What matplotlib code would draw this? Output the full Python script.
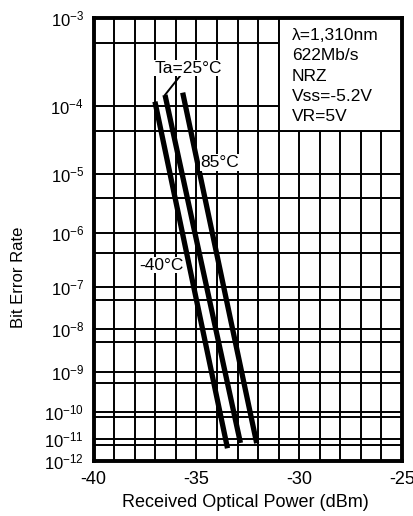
import numpy as np
import matplotlib
matplotlib.use('Agg')
from matplotlib import pyplot as plt
from matplotlib.patches import Rectangle

plt.rcParams['font.family'] = ['Liberation Sans', 'DejaVu Sans']
plt.rcParams['mathtext.fontset'] = 'custom'
plt.rcParams['mathtext.rm'] = 'Liberation Sans'

# curves: received power (dBm) at the two ends, BER at the two ends
temps = ['-40°C', 'Ta=25°C', '85°C']
power_top = [-37.02, -36.53, -35.67]
power_bottom = [-33.49, -32.86, -32.07]
ber_top = [1.11e-4, 1.32e-4, 1.40e-4]
ber_bottom = [3.6e-12, 6.4e-12, 6.2e-12]

decades = [1e-3, 1e-4, 1e-5, 1e-6, 1e-7, 1e-8, 1e-9, 1e-10, 1e-11, 1e-12]
minor_lines = [5e-4, 5e-5, 5e-6, 5e-7, 5e-8, 5e-9, 5e-10, 5e-11, 5e-12]
x_ticks = [-40, -35, -30, -25]

conditions = ['λ=1,310nm', '622Mb/s', 'NRZ', 'Vss=-5.2V', 'VR=5V']

# the chart's BER axis is a hand drawn "log(-log)" type scale;
# calibrate it on -log10(BER) -> fraction of height from the top
scale_nlog = [3, 3.301, 4, 4.301, 5, 5.301, 6, 6.301, 7, 7.301,
              8, 8.301, 9, 9.301, 10, 10.301, 11, 11.301, 12]
scale_depth = [0, 0.0577, 0.1985, 0.2567, 0.3533, 0.4060, 0.4864, 0.5301,
               0.6068, 0.6368, 0.7022, 0.7322, 0.7999, 0.8234, 0.8888,
               0.9001, 0.9510, 0.9639, 1.0]


def ber_forward(v):
    v = np.clip(np.asarray(v, dtype=float), 1e-300, None)
    return 1 - np.interp(-np.log10(v), scale_nlog, scale_depth)


def ber_inverse(p):
    p = np.asarray(p, dtype=float)
    return 10 ** -np.interp(1 - p, scale_depth, scale_nlog)


def main():
    fig = plt.figure(figsize=(4.14, 5.16), dpi=100)
    ax = fig.add_axes([0.2263, 0.1066, 0.7447, 0.8591])

    ax.set_yscale('function', functions=(ber_forward, ber_inverse))
    ax.set_xlim(-40, -25)
    ax.set_ylim(1e-12, 1e-3)

    # grid
    for x in range(-39, -25):
        ax.axvline(x, color='black', lw=1.4, zorder=1)
    for y in decades[1:-1] + minor_lines:
        ax.axhline(y, color='black', lw=1.4, zorder=1)

    # white box with test conditions (hides the grid behind it)
    ax.add_patch(Rectangle((-31, 5e-5), 6, 1e-3 - 5e-5, facecolor='white',
                           edgecolor='black', lw=1.4, zorder=2))
    ax.text(0.643, 0.977, '\n'.join(conditions), transform=ax.transAxes,
            ha='left', va='top', fontsize=12.5, linespacing=1.45, zorder=3)

    for i in range(len(temps)):
        ax.plot([power_top[i], power_bottom[i]], [ber_top[i], ber_bottom[i]],
                color='black', lw=3.8, solid_capstyle='butt', zorder=4)

    # leader for the 25 degC curve
    ax.plot([power_top[1], -35.8], [ber_top[1], 2.15e-4], color='black',
            lw=1.4, zorder=4)

    box = dict(facecolor='white', edgecolor='none', pad=0.5)
    ax.text(-35.4, 2.64e-4, temps[1], ha='center', va='center',
            fontsize=12.5, bbox=box, zorder=5)
    ax.text(-33.85, 1.55e-5, temps[2], ha='center', va='center',
            fontsize=12.5, bbox=box, zorder=5)
    ax.text(-36.72, 2.79e-7, temps[0], ha='center', va='center',
            fontsize=12.5, bbox=box, zorder=5)

    ax.set_xticks(x_ticks)
    ax.set_xticklabels([str(t) for t in x_ticks], fontsize=13)
    ax.set_yticks(decades)
    ax.set_yticklabels([r'$\mathregular{10^{%d}}$' % round(np.log10(d))
                        for d in decades], fontsize=12)
    ax.yaxis.set_minor_locator(matplotlib.ticker.NullLocator())
    ax.tick_params(length=0, pad=7)
    ax.tick_params(axis='x', pad=7)

    for s in ax.spines.values():
        s.set_linewidth(2.8)
        s.set_zorder(6)

    fig.text(0.592, 0.027, 'Received Optical Power (dBm)', ha='center',
             va='center', fontsize=13)
    fig.text(0.045, 0.463, 'Bit Error Rate', rotation=90, ha='center',
             va='center', fontsize=12)

    fig.savefig('out.png', dpi=100)


if __name__ == '__main__':
    main()
